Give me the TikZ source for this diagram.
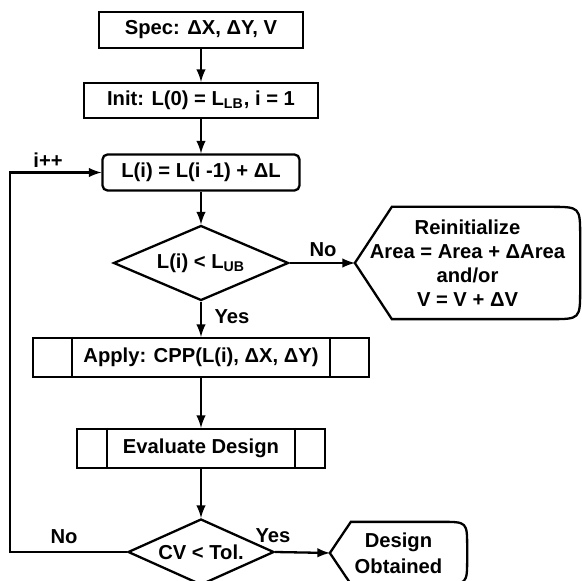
\documentclass[tikz,border=0pt]{standalone}
\usepackage{fontspec}
\setmainfont{Liberation Sans}
\usetikzlibrary{shapes.geometric}

\tikzset{
  flowbox/.style={draw, rectangle, inner sep=0pt, minimum height=#1},
  flowbox/.default=18pt,
  roundbox/.style={flowbox, rounded corners=2.5pt},
  testdia/.style={draw, diamond, inner sep=0pt, aspect=2},
  dispnode/.style={inner sep=0pt, align=center}
}

% left point, slanted edges, round right side
\newcommand{\dispoutline}[3]{%
  \draw (#1.west) -- ([xshift=#2]#1.north west)
    -- ([xshift=-#3]#1.north east) .. controls (#1.north east) .. ([yshift=-#3]#1.north east)
    -- ([yshift=#3]#1.south east) .. controls (#1.south east) .. ([xshift=-#3]#1.south east)
    -- ([xshift=#2]#1.south west) -- cycle;}

\begin{document}
\begin{tikzpicture}[x=0.5pt, y=-0.5pt, line width=1.15pt, >=latex,
    font=\fontsize{10.1}{11.9}\selectfont\bfseries]
  \useasboundingbox (0,0) rectangle (582,581);

  \node[flowbox, minimum width=102pt] (spec) at (201,30) {Spec: ΔX, ΔY, V};
  \node[flowbox=17.5pt, minimum width=117pt] (init) at (201,100.5)
        {Init: L(0) = L\textsubscript{LB}, i = 1};
  \node[roundbox=18.5pt, minimum width=98.5pt] (lstep) at (201,172.5)
        {L(i) = L(i -1) + ΔL};
  \node[testdia, minimum width=87.5pt, minimum height=37.5pt] (check1) at (201,263)
        {L(i) < L\textsubscript{UB}};
  \node[dispnode, minimum width=111.5pt, minimum height=55pt] (reinit) at (467.5,263)
        {Reinitialize\\Area = Area + ΔArea\\and/or\\V = V + ΔV};
  \node[flowbox=19.5pt, minimum width=168pt] (apply) at (201,357.5)
        {Apply: CPP(L(i), ΔX, ΔY)};
  \node[flowbox=19.5pt, minimum width=124pt] (evald) at (201,448.5) {Evaluate Design};
  \node[testdia, minimum width=73pt, minimum height=33pt] (check2) at (201,552)
        {CV < Tol.};
  \node[dispnode, minimum width=67.5pt, minimum height=30pt] (done) at (398.5,553)
        {Design\\[1pt]Obtained};

  \dispoutline{reinit}{18.5pt}{15pt}
  \dispoutline{done}{10.5pt}{13pt}
  \foreach \n/\d in {apply/20pt, evald/15.5pt}{
    \draw ([xshift=\d]\n.north west) -- ([xshift=\d]\n.south west);
    \draw ([xshift=-\d]\n.north east) -- ([xshift=-\d]\n.south east);
  }

  \draw[->] (spec) -- (init);
  \draw[->] (init) -- (lstep);
  \draw[->] (lstep) -- (check1);
  \draw[->] (check1) -- (apply);
  \draw[->] (check1.east) -- (reinit.west);
  \draw[->] (apply) -- (evald);
  \draw[->] (evald) -- (check2);
  \draw[->] (check2.east) -- (done.west);
  \coordinate (loopc) at (10,552);
  \draw[->] (check2.west) -- (loopc) |- (lstep.west);

  \node (lbno1) at (323,250) {No};
  \node (lbyes1) at (232,317) {Yes};
  \node (lbno2) at (64,537) {No};
  \node (lbyes2) at (273,536) {Yes};
  \node (lbinc) at (48,160) {i++};
\end{tikzpicture}
\end{document}
